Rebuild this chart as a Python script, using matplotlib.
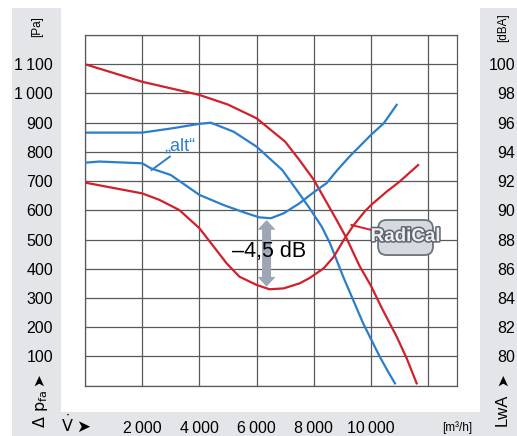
import matplotlib
matplotlib.use('Agg')
import matplotlib.pyplot as plt
from matplotlib.patches import Rectangle, FancyArrowPatch, FancyBboxPatch
import matplotlib.patheffects as pe

plt.rcParams['font.family'] = ['Liberation Sans Narrow', 'Liberation Sans', 'DejaVu Sans']

# pressure curves [Pa] over flow [m3/h]
red_p_x = [0, 2000, 4000, 5000, 6000, 7000, 7500, 8000, 8400, 8800, 9150, 9600, 10000, 10400, 10900, 11250, 11600]
red_p_y = [1100, 1040, 995, 962, 915, 835, 772, 705, 636, 567, 504, 410, 342, 262, 168, 94, 8]

blue_p_x = [0, 2000, 3000, 4000, 4400, 5200, 6000, 6900, 7400, 7850, 8280, 8570, 8800, 9030, 9380, 9730, 10020, 10310, 10600, 10840]
blue_p_y = [866, 866, 880, 896, 900, 869, 818, 738, 670, 608, 544, 487, 430, 373, 293, 213, 156, 99, 48, 8]

# noise curves [dBA]
blue_n_x = [0, 500, 2000, 2300, 3000, 4000, 4850, 5650, 6100, 6500, 6950, 7500, 8000, 8450, 8800, 9250, 10000, 10450, 10900]
blue_n_y = [93.26, 93.34, 93.22, 92.88, 92.42, 91.06, 90.36, 89.8, 89.52, 89.46, 89.8, 90.48, 91.24, 91.86, 92.7, 93.68, 95.16, 95.96, 97.22]

red_n_x = [0, 2000, 2600, 3300, 4000, 4500, 4950, 5400, 6000, 6450, 6950, 7500, 7850, 8350, 8700, 9050, 9400, 9800, 10050, 10550, 11000, 11650]
red_n_y = [91.9, 91.16, 90.72, 90.02, 88.78, 87.52, 86.38, 85.46, 84.9, 84.6, 84.66, 85.0, 85.36, 86.04, 86.82, 87.98, 89.0, 89.96, 90.44, 91.28, 91.96, 93.1]

x_ticks = [0, 2000, 4000, 6000, 8000, 10000, 12000]
x_labels = ['', '2\u2009000', '4\u2009000', '6\u2009000', '8\u2009000', '10\u2009000', '']
p_ticks = list(range(0, 1300, 100))
p_labels = [''] + [str(v) if v < 1000 else '1\u2009' + str(v)[1:] for v in range(100, 1200, 100)] + ['']
db_ticks = list(range(80, 102, 2))

RED = '#d2202b'
BLUE = '#2a7fcd'
GRID = '#595959'
PANEL = '#e4e5e9'

W, H = 517, 436
fig = plt.figure(figsize=(W / 100, H / 100), dpi=100)

def fx(px):
    return px / W

def fy(py):
    return 1 - py / H

# gray frame panels
for x0, y0, x1, y1 in [(12, 8, 61, 436), (12, 412, 517, 436), (480, 8, 517, 436)]:
    fig.patches.append(Rectangle((fx(x0), fy(y1)), fx(x1) - fx(x0), fy(y0) - fy(y1),
                                 transform=fig.transFigure, color=PANEL, zorder=-10, lw=0))

ax = fig.add_axes([fx(85), fy(385.7), fx(456.7) - fx(85), fy(35) - fy(385.7)])
ax.set_xlim(0, 13000)
ax.set_ylim(0, 1200)
ax.set_xticks(x_ticks)
ax.set_xticklabels(x_labels)
ax.set_yticks(p_ticks)
ax.set_yticklabels(p_labels)
ax.grid(True, color=GRID, lw=0.9)
ax.set_axisbelow(True)
for s in ax.spines.values():
    s.set_color(GRID)
    s.set_linewidth(0.9)
ax.tick_params(axis='both', length=0, labelsize=11.5)
ax.tick_params(axis='y', pad=23)
ax.tick_params(axis='x', pad=25.5)

ax.plot(red_p_x, red_p_y, color=RED, lw=1.6, solid_joinstyle='round')
ax.plot(blue_p_x, blue_p_y, color=BLUE, lw=1.6, solid_joinstyle='round')

ax2 = ax.twinx()
ax2.set_ylim(78, 102)
ax2.set_yticks(db_ticks)
ax2.tick_params(axis='y', length=0, labelsize=11.5, pad=42)
for lab in ax2.get_yticklabels():
    lab.set_horizontalalignment('right')
for s in ax2.spines.values():
    s.set_visible(False)
ax2.plot(blue_n_x, blue_n_y, color=BLUE, lw=1.6, solid_joinstyle='round')
ax2.plot(red_n_x, red_n_y, color=RED, lw=1.6, solid_joinstyle='round')

# "alt" label with leader
ax.plot([2330, 2970], [738, 784], color=BLUE, lw=1.4)
ax.text(3320, 820, '\u201ealt\u201c', color=BLUE, fontsize=13, ha='center', va='center')

# -4,5 dB arrow
for end in (567, 339):
    ax.add_patch(FancyArrowPatch((6350, 453), (6350, end),
                                 arrowstyle='simple,head_length=7,head_width=13,tail_width=6.5',
                                 mutation_scale=1, color='#9ea6b6', lw=0, shrinkA=0, shrinkB=0, zorder=3))
ax.text(6430, 459, '\u20134,5 dB', fontsize=15.5, ha='center', va='center', zorder=4)

# RadiCal badge
ax.plot([9320, 10250], [550, 527], color=RED, lw=1.4)
badge = FancyBboxPatch((10250, 447), 1920, 120, boxstyle='round,pad=0,rounding_size=300',
                       facecolor='#d6d9df', edgecolor='#6d727b', lw=1.3, zorder=4,
                       mutation_aspect=0.098)
ax.add_patch(badge)
ax.text(11210, 510, 'RadiCal', fontsize=13.5, fontweight='bold',
        ha='center', va='center', color='#eef0f3', zorder=5,
        path_effects=[pe.withStroke(linewidth=2.2, foreground='#5f656f')])

# axis captions
fig.text(fx(37), fy(27), '[Pa]', rotation=90, fontsize=8.5, ha='center', va='center')
fig.text(fx(503), fy(28), '[dBA]', rotation=90, fontsize=8.5, ha='center', va='center')
fig.text(fx(39), fy(380), '\u27a4', rotation=90, fontsize=11, ha='center', va='center', family='DejaVu Sans')
fig.text(fx(40), fy(409), r'$\Delta\ \mathrm{p}_{\mathrm{fa}}$', rotation=90, fontsize=11.5, ha='center', va='center')
fig.text(fx(503), fy(380), '\u27a4', rotation=90, fontsize=11, ha='center', va='center', family='DejaVu Sans')
fig.text(fx(502), fy(410), 'LwA', rotation=90, fontsize=12, ha='center', va='center')
fig.text(fx(67), fy(424), r'$\dot{\mathrm{V}}$', fontsize=11.5, ha='center', va='center')
fig.text(fx(83), fy(427), '\u27a4', fontsize=12, ha='center', va='center', family='DejaVu Sans')
fig.text(fx(457), fy(428), '[m\u00b3/h]', fontsize=8.5, ha='center', va='center')

fig.savefig('out.png', dpi=100)
